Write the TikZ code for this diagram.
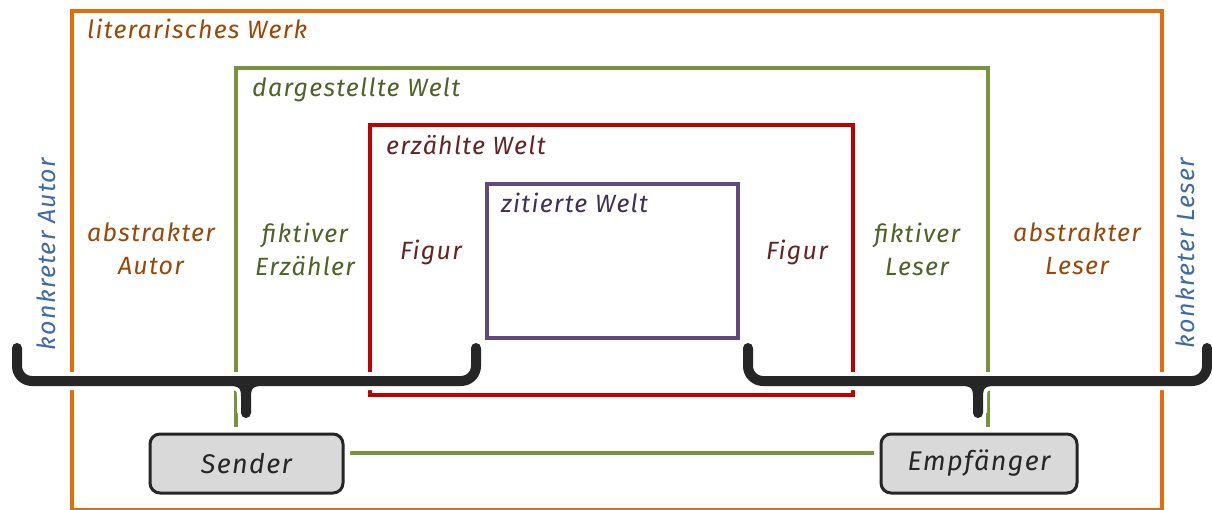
\documentclass[tikz,border=0pt]{standalone}
\usepackage{fontspec}
\setmainfont{Fira Sans}[LetterSpace=5]
\definecolor{orL}{HTML}{E46C0A}
\definecolor{orT}{HTML}{984807}
\definecolor{grL}{HTML}{77933C}
\definecolor{grT}{HTML}{4F6228}
\definecolor{reL}{HTML}{C00000}
\definecolor{reT}{HTML}{632523}
\definecolor{puL}{HTML}{604A7B}
\definecolor{puT}{HTML}{3F3151}
\definecolor{blT}{HTML}{3E6AA5}
\definecolor{boxF}{HTML}{D9D9D9}
\definecolor{boxD}{HTML}{262626}
\tikzset{
  frame/.style={draw, line width=4pt, inner sep=0pt, fill=none},
  lbl/.style={font=\itshape\fontsize{25}{33}\selectfont, align=center, inner sep=0pt},
  ttl/.style={lbl, anchor=base west},
  bracepath/.style={draw=boxD, line width=10pt, line cap=round, line join=round,
    preaction={draw=white, line width=18pt}},
  boxst/.style={draw=boxD, fill=boxF, line width=3pt, rounded corners=10pt,
    minimum width=193pt, minimum height=59pt, inner sep=0pt,
    font=\itshape\fontsize{27}{30}\selectfont, text=boxD,
    preaction={draw=white, line width=14pt}}
}
\begin{document}
\begin{tikzpicture}[x=1pt,y=-1pt]
\useasboundingbox (0,0) rectangle (1212,509);
% frames
\node[frame, draw=orL, minimum width=1090pt, minimum height=498.5pt] (werk) at (617,260.25) {};
\node[frame, draw=grL, minimum width=752pt, minimum height=385pt] (welt) at (612,260.5) {};
\node[frame, draw=reL, minimum width=483pt, minimum height=270pt] (erz) at (611.5,260) {};
\node[frame, draw=puL, minimum width=251pt, minimum height=154pt] (zit) at (612.5,261) {};
% titles
\node[ttl, text=orT] (tw) at (87,38) {literarisches Werk};
\node[ttl, text=grT] (tdw) at (252,96) {dargestellte Welt};
\node[ttl, text=reT] (tew) at (386,154) {erzählte Welt};
\node[ttl, text=puT] (tzw) at (501,212) {zitierte Welt};
% labels
\node[lbl, text=blT, rotate=90] (kA) at (46,254) {konkreter Autor};
\node[lbl, text=orT] (aA) at (151,249) {abstrakter\\Autor};
\node[lbl, text=grT] (fE) at (305,249) {fiktiver\\Erzähler};
\node[lbl, text=reT] (fg1) at (431,252) {Figur};
\node[lbl, text=reT] (fg2) at (797,252) {Figur};
\node[lbl, text=grT] (fL) at (917,249) {fiktiver\\Leser};
\node[lbl, text=orT] (aL) at (1077,249) {abstrakter\\Leser};
\node[lbl, text=blT, rotate=90] (kL) at (1185,253) {konkreter Leser};
% braces
\draw[bracepath] (17,348) -- (17,366) to[out=-90,in=180] (32,381) -- (461,381) to[out=0,in=-90] (476,366) -- (476,348)
  (230,381) .. controls (242,381) and (246,386) .. (246,396) -- (246,413)
  (262,381) .. controls (250,381) and (246,386) .. (246,396);
\draw[bracepath] (748,348) -- (748,366) to[out=-90,in=180] (763,381) -- (1192,381) to[out=0,in=-90] (1207,366) -- (1207,348)
  (962,381) .. controls (974,381) and (978,386) .. (978,396) -- (978,413)
  (994,381) .. controls (982,381) and (978,386) .. (978,396);
% boxes
\node[boxst] (sender) at (246.5,463.5) {Sender};
\node[boxst, minimum width=196pt] (empf) at (979,463.5) {Empfänger};
\end{tikzpicture}
\end{document}
